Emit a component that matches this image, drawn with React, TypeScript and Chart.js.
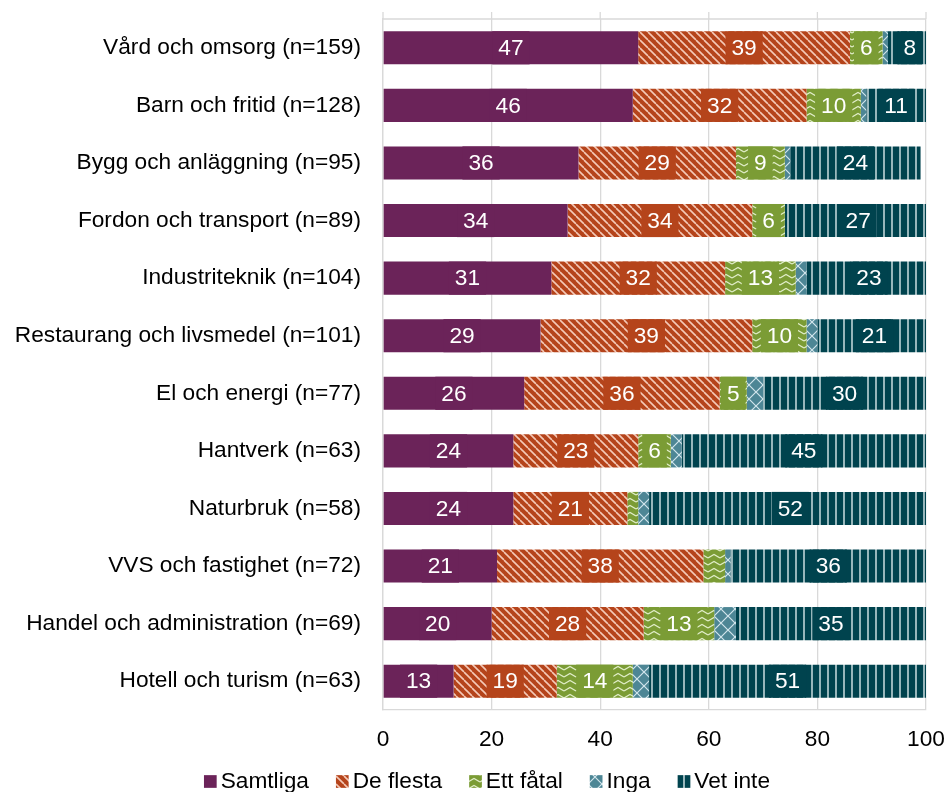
import React, { useEffect, useRef } from 'react';
import { Chart, registerables } from 'chart.js';

Chart.register(...registerables);

const categories = [
  'Vård och omsorg (n=159)',
  'Barn och fritid (n=128)',
  'Bygg och anläggning (n=95)',
  'Fordon och transport (n=89)',
  'Industriteknik (n=104)',
  'Restaurang och livsmedel (n=101)',
  'El och energi (n=77)',
  'Hantverk (n=63)',
  'Naturbruk (n=58)',
  'VVS och fastighet (n=72)',
  'Handel och administration (n=69)',
  'Hotell och turism (n=63)',
];
const samtliga = [47, 46, 36, 34, 31, 29, 26, 24, 24, 21, 20, 13];
const deFlesta = [39, 32, 29, 34, 32, 39, 36, 23, 21, 38, 28, 19];
const ettFatal = [6, 10, 9, 6, 13, 10, 5, 6, 2, 4, 13, 14];
const inga = [1, 1, 1, 0, 2, 2, 3, 2, 2, 1, 4, 3];
const vetInte = [8, 11, 24, 27, 23, 21, 30, 45, 52, 36, 35, 51];
const seriesNames = ['Samtliga', 'De flesta', 'Ett fåtal', 'Inga', 'Vet inte'];
const xTicks = [0, 20, 40, 60, 80, 100];

const FONT = '"Liberation Sans", Arial, sans-serif';
const FS = 22.7;
const baseColors = ['#6B2359', '#B5441B', '#7B9C35', '#4D8695', '#00434E'];

function makePattern(kind: string, base: string, fg: string): CanvasPattern | string {
  if (kind === 'solid') return base;
  const c = document.createElement('canvas');
  let w = 8, h = 8;
  if (kind === 'zigzag') { w = 12; h = 7; }
  if (kind === 'cross') { w = 14; h = 14; }
  c.width = w; c.height = h;
  const ctx = c.getContext('2d');
  if (!ctx) return base;
  ctx.fillStyle = base;
  ctx.fillRect(0, 0, w, h);
  ctx.strokeStyle = fg;
  if (kind === 'diag') {
    ctx.lineWidth = 1.6;
    for (let x = -w; x <= w; x += w) {
      ctx.beginPath();
      ctx.moveTo(x, 0);
      ctx.lineTo(x + w, h);
      ctx.stroke();
    }
  } else if (kind === 'zigzag') {
    ctx.lineWidth = 1.3;
    ctx.beginPath();
    ctx.moveTo(0, 5);
    ctx.lineTo(6, 1.5);
    ctx.lineTo(12, 5);
    ctx.stroke();
  } else if (kind === 'cross') {
    ctx.lineWidth = 1.2;
    ctx.beginPath();
    ctx.moveTo(0, 0); ctx.lineTo(w, h);
    ctx.moveTo(w, 0); ctx.lineTo(0, h);
    ctx.stroke();
  } else if (kind === 'vert') {
    ctx.lineWidth = 1.6;
    ctx.beginPath();
    ctx.moveTo(4, 0); ctx.lineTo(4, h);
    ctx.stroke();
  }
  const p = ctx.createPattern(c, 'repeat');
  return p || base;
}

export default function App() {
  const ref = useRef<HTMLCanvasElement | null>(null);

  useEffect(() => {
    document.body.style.margin = '0';
    const canvas = ref.current;
    if (!canvas) return;

    const fills = [
      makePattern('solid', baseColors[0], '#fff'),
      makePattern('diag', baseColors[1], 'rgba(255,225,210,0.85)'),
      makePattern('zigzag', baseColors[2], 'rgba(235,245,215,0.9)'),
      makePattern('cross', baseColors[3], 'rgba(225,240,245,0.9)'),
      makePattern('vert', baseColors[4], 'rgba(200,220,222,0.95)'),
    ];
    const seriesData = [samtliga, deFlesta, ettFatal, inga, vetInte];

    const topTicks = {
      id: 'topTicks',
      beforeDatasetsDraw(chart: any) {
        const { ctx, chartArea, scales } = chart;
        ctx.save();
        ctx.strokeStyle = '#D9D9D9';
        ctx.lineWidth = 1.3;
        xTicks.forEach((v) => {
          const x = scales.x.getPixelForValue(v);
          ctx.beginPath();
          ctx.moveTo(x, chartArea.top - 7);
          ctx.lineTo(x, chartArea.top);
          ctx.stroke();
        });
        ctx.beginPath();
        ctx.moveTo(chartArea.left, chartArea.top);
        ctx.lineTo(chartArea.right, chartArea.top);
        ctx.stroke();
        ctx.restore();
      },
    };

    const dataLabels = {
      id: 'dataLabels',
      afterDatasetsDraw(chart: any) {
        const { ctx } = chart;
        ctx.save();
        ctx.font = `${FS}px ${FONT}`;
        ctx.textAlign = 'center';
        ctx.textBaseline = 'middle';
        chart.data.datasets.forEach((ds: any, i: number) => {
          const meta = chart.getDatasetMeta(i);
          meta.data.forEach((el: any, j: number) => {
            const v = ds.data[j];
            if (v < 5) return;
            const p = el.getProps(['x', 'y', 'base', 'height'], true);
            const cx = (p.x + p.base) / 2;
            const tw = ctx.measureText(String(v)).width;
            const segW = Math.abs(p.x - p.base);
            const bw = Math.min(tw + 12, segW);
            ctx.fillStyle = baseColors[i];
            ctx.fillRect(cx - bw / 2, p.y - p.height / 2, bw, p.height);
            ctx.fillStyle = '#FFFFFF';
            ctx.fillText(String(v), cx, p.y + 1);
          });
        });
        ctx.restore();
      },
    };

    const customLegend = {
      id: 'customLegend',
      afterDraw(chart: any) {
        const { ctx } = chart;
        ctx.save();
        ctx.font = `${FS}px ${FONT}`;
        ctx.textBaseline = 'middle';
        ctx.textAlign = 'left';
        const box = 12.7, gap = 4, spacing = 27;
        const widths = seriesNames.map((n) => ctx.measureText(n).width);
        const total = widths.reduce((a, b) => a + b, 0) + seriesNames.length * (box + gap) + (seriesNames.length - 1) * spacing;
        let x = 487 - total / 2;
        const cy = 781.5;
        seriesNames.forEach((n, i) => {
          ctx.fillStyle = fills[i] as any;
          ctx.fillRect(x, cy - box / 2, box, box);
          ctx.fillStyle = '#000000';
          ctx.fillText(n, x + box + gap, cy);
          x += box + gap + widths[i] + spacing;
        });
        ctx.restore();
      },
    };

    const chart = new Chart(canvas, {
      type: 'bar',
      data: {
        labels: categories,
        datasets: seriesNames.map((name, i) => ({
          label: name,
          data: seriesData[i],
          backgroundColor: fills[i] as any,
          borderWidth: 0,
          barPercentage: 0.575,
          categoryPercentage: 1,
        })),
      },
      options: {
        indexAxis: 'y',
        animation: false,
        responsive: false,
        layout: { padding: 0 },
        plugins: {
          legend: { display: false },
          tooltip: { enabled: false },
        },
        scales: {
          x: {
            stacked: true,
            min: 0,
            max: 100,
            afterBuildTicks: (scale: any) => {
              scale.ticks = xTicks.map((v) => ({ value: v }));
            },
            afterFit: (scale: any) => {
              scale.height = 82;
              scale.paddingLeft = 0;
              scale.paddingRight = 21;
            },
            grid: { color: '#D9D9D9', lineWidth: 1.3, drawTicks: false },
            border: { display: true, color: '#D9D9D9', width: 1.3 },
            ticks: { color: '#000000', padding: 16, font: { family: FONT, size: FS } },
          },
          y: {
            stacked: true,
            afterFit: (scale: any) => {
              scale.width = 383;
              scale.paddingTop = 19;
              scale.paddingBottom = 0;
            },
            grid: {
              offset: true,
              drawTicks: false,
              lineWidth: 1.3,
              color: 'rgba(0,0,0,0)',
            },
            border: { display: true, color: '#D9D9D9', width: 1.3 },
            ticks: { color: '#000000', padding: 22, font: { family: FONT, size: FS } },
          },
        },
      },
      plugins: [topTicks, dataLabels, customLegend],
    });

    return () => chart.destroy();
  }, []);

  return (
    <div style={{ width: 947, height: 792 }}>
      <canvas ref={ref} width={947} height={792} style={{ display: 'block' }} />
    </div>
  );
}
